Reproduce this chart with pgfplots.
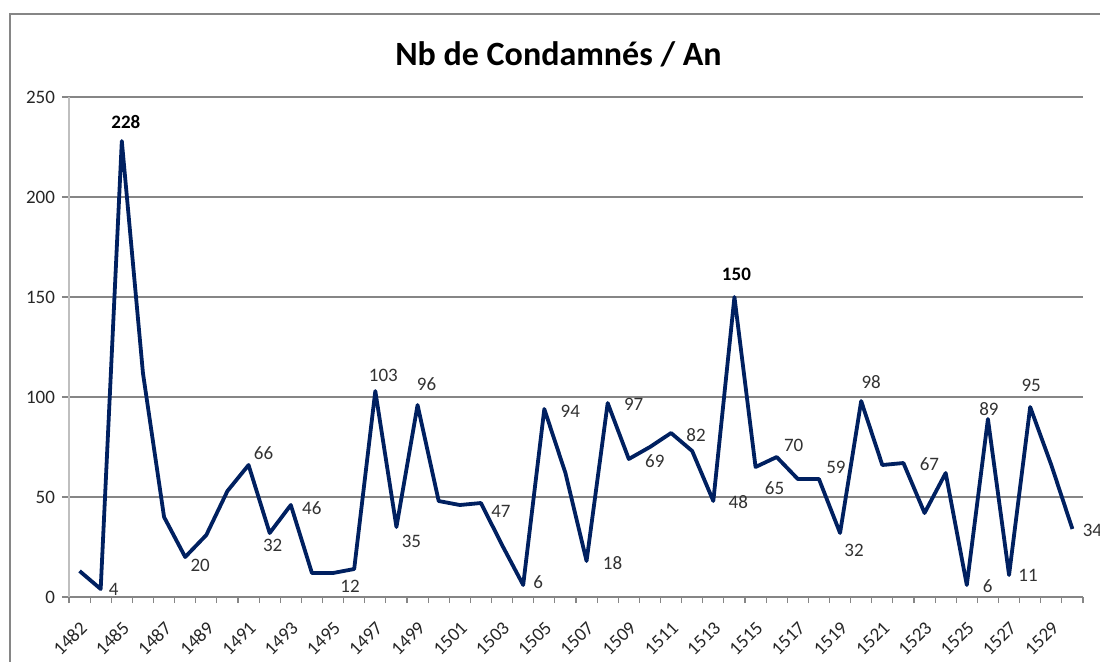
\documentclass[border=0pt]{standalone}
\usepackage{fontspec}
\setmainfont{Carlito}
\usepackage{pgfplots}
\pgfplotsset{compat=1.18}
\definecolor{linecol}{RGB}{0,32,96}
\definecolor{gridcol}{RGB}{134,134,134}
\definecolor{labcol}{RGB}{50,50,50}
\begin{document}
\begin{tikzpicture}
\path[use as bounding box] (0,0) rectangle (550pt,-330.5pt);
\draw[gridcol, line width=1pt] (5pt,-340pt) -- (5pt,-7pt) -- (560pt,-7pt);
\node[anchor=base, font=\bfseries\fontsize{17}{20}\selectfont] at (279.25pt,-32.5pt) {Nb de Condamnés / An};
\begin{axis}[
  at={(34.5pt,-298.5pt)}, anchor=south west,
  scale only axis, width=507pt, height=250pt,
  xmin=-0.5, xmax=47.5, ymin=0, ymax=250,
  clip=false,
  axis x line*=bottom, axis y line*=left,
  every outer x axis line/.append style={-, draw=gridcol, line width=0.6pt},
  every outer y axis line/.append style={-, draw=black!25, line width=0.6pt},
  ymajorgrids, grid style={gridcol, line width=0.6pt},
  ytick={0,50,...,250},
  /pgf/number format/assume math mode=true,
  xtick={0,2,...,46},
  xticklabels={\mbox{1482},\mbox{1485},\mbox{1487},\mbox{1489},\mbox{1491},\mbox{1493},\mbox{1495},\mbox{1497},\mbox{1499},\mbox{1501},\mbox{1503},\mbox{1505},\mbox{1507},\mbox{1509},\mbox{1511},\mbox{1513},\mbox{1515},\mbox{1517},\mbox{1519},\mbox{1521},\mbox{1523},\mbox{1525},\mbox{1527},\mbox{1529}},
  minor xtick={-0.5,0.5,...,47.5},
  tick align=outside,
  major tick length=3.5pt, minor tick length=3pt,
  xtick style={draw=none},
  minor x tick style={draw=gridcol, line width=0.6pt},
  ytick style={draw=gridcol, line width=0.6pt},
  tick label style={font=\fontsize{9.5}{11}\selectfont, text=black!85},
  xticklabel style={xshift=4.5pt, yshift=-8pt, rotate=45, anchor=east},
]
\addplot[linecol, line width=1.9pt, line join=round, mark=none] table[x=i, y=v] {
i v
0 13
1 4
2 228
3 112
4 40
5 20
6 31
7 53
8 66
9 32
10 46
11 12
12 12
13 14
14 103
15 35
16 96
17 48
18 46
19 47
20 26
21 6
22 94
23 62
24 18
25 97
26 69
27 75
28 82
29 73
30 48
31 150
32 65
33 70
34 59
35 59
36 32
37 98
38 66
39 67
40 42
41 62
42 6
43 89
44 11
45 95
46 66
47 34
};
\addplot[draw=none, mark=none, nodes near coords, point meta=explicit symbolic,
  visualization depends on={\thisrow{dx} \as \dx},
  visualization depends on={\thisrow{dy} \as \dy},
  every node near coord/.append style={anchor=center, xshift={\dx*0.5pt}, yshift={\dy*0.5pt}, font=\fontsize{9.5}{11}\selectfont, text=labcol}]
  table[x=i, y=v, meta=v] {
i v dx dy
1 4 13 0
5 20 15 -8
8 66 15 12
9 32 3 -12
10 46 21 -3
12 12 17 -13
14 103 8 16
15 35 15 -14
16 96 9 21
19 47 20 -8
21 6 15 3
22 94 26 -2
24 18 26 -2
25 97 26 -1
26 69 26 -2
28 82 25 -2
30 48 25 -1
32 65 19 -21
33 70 17 12
35 59 17 12
36 32 14 -17
37 98 10 19
39 67 26 -1
42 6 21 -1
43 89 1 10
44 11 19 0
45 95 1 22
47 34 20 -1
};
\addplot[draw=none, mark=none, nodes near coords, point meta=explicit symbolic,
  visualization depends on={\thisrow{dx} \as \dx},
  visualization depends on={\thisrow{dy} \as \dy},
  every node near coord/.append style={anchor=center, xshift={\dx*0.5pt}, yshift={\dy*0.5pt}, font=\bfseries\fontsize{9.5}{11}\selectfont, text=black}]
  table[x=i, y=v, meta=v] {
i v dx dy
2 228 4 19
31 150 2 23
};
\end{axis}
\end{tikzpicture}
\end{document}
